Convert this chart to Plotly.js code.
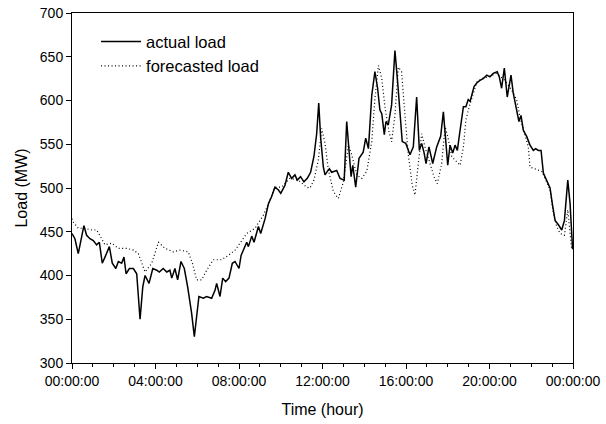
<!DOCTYPE html>
<html>
<head>
<meta charset="utf-8">
<script src="https://cdn.plot.ly/plotly-3.0.1.min.js"></script>
<style>html,body{margin:0;padding:0;background:#fff;}#chart{width:606px;height:424px;}</style>
</head>
<body>
<div id="chart"></div>
<script>
// Time in hours since midnight, load in MW
const actualHours = [0.0,0.14,0.3,0.46,0.57,0.7,0.86,1.02,1.18,1.31,1.45,1.58,1.79,1.93,2.1,2.22,2.38,2.49,2.59,2.75,2.94,3.1,3.26,3.39,3.5,3.69,3.87,4.06,4.18,4.37,4.54,4.69,4.78,4.93,5.06,5.22,5.38,5.54,5.73,5.86,5.97,6.08,6.29,6.45,6.69,6.85,6.93,7.09,7.22,7.36,7.52,7.68,7.81,8.0,8.1,8.21,8.37,8.45,8.61,8.72,8.93,9.04,9.25,9.41,9.56,9.72,9.88,10.0,10.2,10.36,10.52,10.68,10.79,10.95,11.11,11.27,11.43,11.59,11.72,11.82,11.91,12.04,12.12,12.23,12.33,12.44,12.68,12.84,13.04,13.16,13.27,13.37,13.45,13.59,13.75,13.95,14.07,14.2,14.36,14.51,14.64,14.75,14.84,14.96,15.04,15.15,15.31,15.47,15.6,15.71,15.82,15.99,16.19,16.35,16.51,16.64,16.75,16.86,16.96,17.1,17.28,17.47,17.66,17.79,17.88,18.0,18.11,18.24,18.35,18.46,18.59,18.75,18.87,18.98,19.07,19.15,19.26,19.39,19.54,19.7,19.87,20.02,20.18,20.37,20.47,20.58,20.71,20.85,21.03,21.14,21.25,21.41,21.51,21.62,21.78,21.94,22.1,22.21,22.34,22.47,22.58,22.74,22.9,23.01,23.14,23.3,23.46,23.59,23.75,23.86,23.94,23.98];
const actualLoad = [448,442,425,446,457,446,442,440,435,438,414,421,433,414,408,416,414,421,402,408,408,402,350,387,400,391,408,406,404,408,404,406,397,408,395,416,408,387,357,330,357,376,374,376,374,383,391,376,397,393,397,414,416,408,423,430,438,433,445,438,456,448,465,482,490,501,498,494,503,518,511,515,509,513,507,511,518,536,562,597,558,524,515,519,522,518,520,511,509,576,545,513,526,501,534,541,557,545,606,633,614,589,585,561,576,572,595,657,621,583,553,551,538,547,604,543,551,541,528,547,528,547,559,587,559,526,549,540,549,543,566,593,593,601,599,606,616,620,623,625,629,627,631,633,627,614,637,604,629,608,593,576,583,566,559,549,543,545,543,543,517,509,500,482,463,458,452,463,509,482,440,430];

const forecastHours = [0.0,0.06,0.3,0.6,0.94,1.18,1.42,1.58,1.9,2.22,2.62,2.94,3.18,3.5,3.82,4.14,4.46,4.86,5.17,5.57,5.77,5.97,6.21,6.45,6.77,7.17,7.49,7.81,8.05,8.37,8.77,9.17,9.41,9.72,10.04,10.44,10.84,11.24,11.4,11.59,11.8,11.96,12.12,12.28,12.52,12.76,13.0,13.24,13.4,13.64,13.88,14.12,14.36,14.51,14.68,14.84,15.0,15.19,15.31,15.47,15.63,15.79,15.95,16.11,16.3,16.43,16.59,16.75,16.91,17.15,17.34,17.5,17.71,17.87,18.0,18.19,18.43,18.59,18.75,18.87,19.03,19.22,19.39,19.63,19.94,20.34,20.74,21.06,21.3,21.46,21.7,21.86,21.94,22.18,22.5,22.66,22.9,23.06,23.22,23.38,23.59,23.75,23.86,23.94];
const forecastLoad = [465,461,454,454,452,452,442,435,437,431,431,429,425,404,414,438,431,427,429,427,414,395,395,406,418,418,423,429,437,448,454,469,482,501,501,511,509,501,500,509,532,568,551,521,496,488,507,549,538,515,511,519,553,602,640,625,591,564,553,583,638,633,583,538,503,492,528,562,547,528,513,505,528,570,559,536,530,526,547,578,593,608,621,625,627,631,623,612,601,581,562,547,524,522,519,511,498,471,456,448,446,475,452,429];

const tickHours = [0,4,8,12,16,20,24];
const tickLabels = ["00:00:00","04:00:00","08:00:00","12:00:00","16:00:00","20:00:00","00:00:00"];
const yTicks = [300,350,400,450,500,550,600,650,700];

const FONT = 'Arial, "Liberation Sans", sans-serif';

const traces = [
  {x: actualHours, y: actualLoad, type: 'scatter', mode: 'lines', name: 'actual load',
   line: {color: '#000', width: 1.5}},
  {x: forecastHours, y: forecastLoad, type: 'scatter', mode: 'lines', name: 'forecasted load',
   line: {color: '#000', width: 1.2, dash: '1px,2.5px'}}
];

const layout = {
  width: 606, height: 424,
  margin: {l: 72, r: 33, t: 13, b: 61},
  paper_bgcolor: '#fff', plot_bgcolor: '#fff',
  font: {family: FONT, color: '#000', size: 14},
  showlegend: true,
  legend: {x: 0.048, y: 0.968, xanchor: 'left', yanchor: 'top', bgcolor: 'rgba(0,0,0,0)',
           itemwidth: 40,
           font: {family: FONT, size: 16.5, color: '#000'}, tracegroupgap: 0},
  xaxis: {
    range: [0, 24], tickmode: 'array', tickvals: tickHours, ticktext: tickLabels,
    showgrid: false, zeroline: false, showline: true, linecolor: '#000', linewidth: 1, mirror: true,
    ticks: 'outside', ticklen: 5, tickwidth: 1, tickcolor: '#000',
    tickfont: {family: FONT, size: 14, color: '#000'},
    minor: {dtick: 1, tick0: 0, ticks: 'outside', ticklen: 3, tickwidth: 1, tickcolor: '#000', showgrid: false},
    title: {text: 'Time (hour)', font: {family: FONT, size: 16, color: '#000'}, standoff: 16}
  },
  yaxis: {
    range: [300, 700], tickmode: 'array', tickvals: yTicks,
    showgrid: false, zeroline: false, showline: true, linecolor: '#000', linewidth: 1, mirror: true,
    ticks: 'outside', ticklen: 5, tickwidth: 1, tickcolor: '#000',
    tickfont: {family: FONT, size: 14, color: '#000'},
    title: {text: 'Load (MW)', font: {family: FONT, size: 16, color: '#000'}, standoff: 8}
  }
};

Plotly.newPlot('chart', traces, layout, {displayModeBar: false, staticPlot: true});
</script>
</body>
</html>
